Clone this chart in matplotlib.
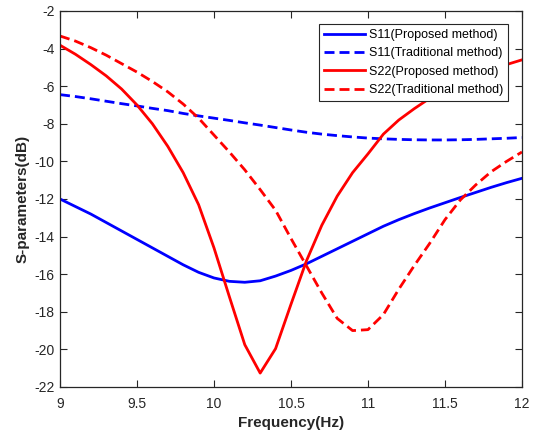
import matplotlib
matplotlib.use("Agg")
import matplotlib.pyplot as plt

plt.rcParams["font.family"] = ["Liberation Sans", "DejaVu Sans"]
plt.rcParams["axes.unicode_minus"] = False

# ------------------------------------------------------------
# Data (0.1 Hz step)
# ------------------------------------------------------------
freq = [9.0, 9.1, 9.2, 9.3, 9.4, 9.5, 9.6, 9.7, 9.8, 9.9,
        10.0, 10.1, 10.2, 10.3, 10.4, 10.5, 10.6, 10.7, 10.8, 10.9,
        11.0, 11.1, 11.2, 11.3, 11.4, 11.5, 11.6, 11.7, 11.8, 11.9, 12.0]

s11_proposed = [-12.0, -12.4, -12.8, -13.25, -13.7, -14.15, -14.6, -15.05, -15.5, -15.9,
                -16.2, -16.38, -16.43, -16.35, -16.1, -15.8, -15.45, -15.05, -14.65, -14.25,
                -13.85, -13.45, -13.1, -12.78, -12.48, -12.2, -11.92, -11.65, -11.38, -11.13, -10.9]

s11_traditional = [-6.45, -6.55, -6.67, -6.8, -6.93, -7.05, -7.18, -7.3, -7.45, -7.58,
                   -7.7, -7.82, -7.95, -8.07, -8.2, -8.33, -8.45, -8.55, -8.63, -8.7,
                   -8.76, -8.8, -8.83, -8.85, -8.86, -8.86, -8.85, -8.83, -8.8, -8.77, -8.73]

s22_proposed = [-3.82, -4.3, -4.85, -5.45, -6.15, -7.0, -8.0, -9.2, -10.6, -12.3,
                -14.6, -17.2, -19.75, -21.26, -19.96, -17.6, -15.3, -13.4, -11.85, -10.6,
                -9.6, -8.55, -7.8, -7.2, -6.65, -6.15, -5.75, -5.43, -5.12, -4.85, -4.6]

s22_traditional = [-3.33, -3.6, -3.95, -4.35, -4.8, -5.25, -5.75, -6.3, -6.95, -7.7,
                   -8.6, -9.5, -10.45, -11.5, -12.6, -14.1, -15.55, -17.0, -18.35, -19.0,
                   -18.95, -18.15, -16.8, -15.55, -14.37, -13.1, -12.05, -11.25, -10.55, -10.0, -9.5]

x_ticks = [9, 9.5, 10, 10.5, 11, 11.5, 12]
x_tick_labels = ["9", "9.5", "10", "10.5", "11", "11.5", "12"]
y_ticks = [-22, -20, -18, -16, -14, -12, -10, -8, -6, -4, -2]

# ------------------------------------------------------------
# Plot
# ------------------------------------------------------------
fig = plt.figure(figsize=(5.39, 4.34), dpi=100)
ax = fig.add_axes([0.1113, 0.1083, 0.8571, 0.8664])

ax.plot(freq, s11_proposed, color="#0000ff", lw=2, label="S11(Proposed method)")
ax.plot(freq, s11_traditional, color="#0000ff", lw=2, dashes=(3.6, 1.8),
        label="S11(Traditional method)")
ax.plot(freq, s22_proposed, color="#ff0000", lw=2, label="S22(Proposed method)")
ax.plot(freq, s22_traditional, color="#ff0000", lw=2, dashes=(3.6, 1.8),
        label="S22(Traditional method)")

ax.set_xlim(9, 12)
ax.set_ylim(-22, -2)
ax.set_xticks(x_ticks)
ax.set_xticklabels(x_tick_labels)
ax.set_yticks(y_ticks)

ax.tick_params(direction="in", length=5, width=0.8, top=True, right=True,
               labelsize=10, colors="#262626")
ax.tick_params(axis="y", pad=4)
ax.tick_params(axis="x", pad=7)
for sp in ax.spines.values():
    sp.set_linewidth(0.9)
    sp.set_color("#262626")

ax.set_xlabel("Frequency(Hz)", fontsize=11, fontweight="bold", color="#262626",
              labelpad=4)
ax.set_ylabel("S-parameters(dB)", fontsize=11, fontweight="bold", color="#262626",
              labelpad=3)

leg = ax.legend(loc="upper right", bbox_to_anchor=(0.97, 0.965), borderaxespad=0,
                fontsize=9, fancybox=False, framealpha=1, edgecolor="#262626",
                handlelength=3.3, handletextpad=0.3, labelspacing=0.5,
                borderpad=0.4)
leg.get_frame().set_linewidth(0.8)

fig.savefig("out.png", dpi=100)
